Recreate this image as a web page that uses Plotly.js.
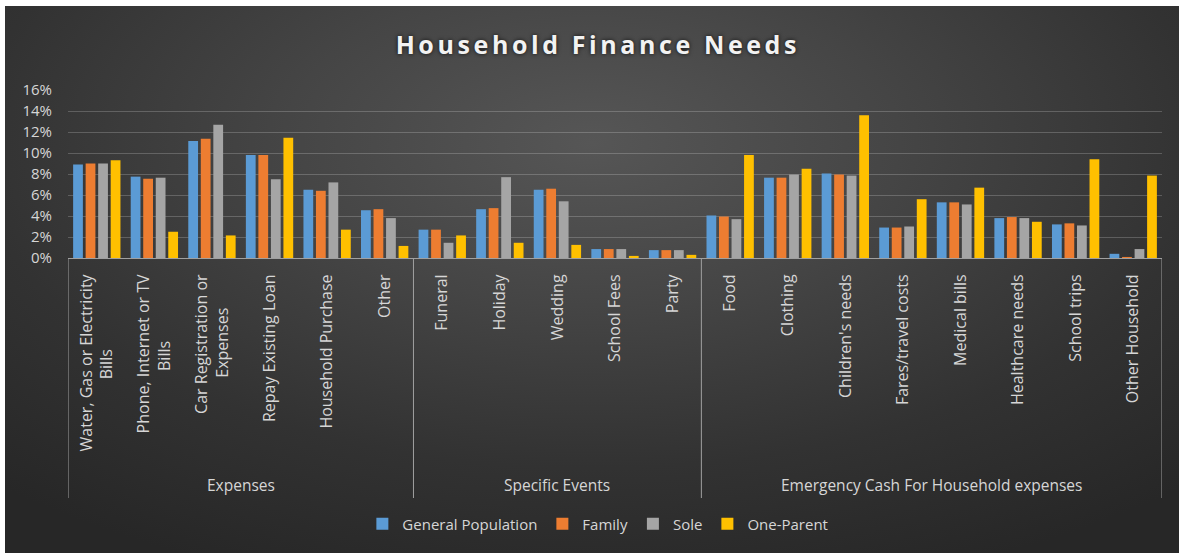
<!DOCTYPE html>
<html>
<head>
<meta charset="utf-8">
<script src="https://cdn.plot.ly/plotly-3.0.1.min.js"></script>
<style>
  html, body { margin: 0; padding: 0; background: #ffffff; width: 1179px; height: 553px; overflow: hidden; }
  #frame {
    position: absolute; left: 5px; top: 6px; width: 1174px; height: 547px;
    background: radial-gradient(ellipse 75% 85% at 50% 25%, #565656 0%, #454545 35%, #323232 70%, #272727 100%);
  }
  #chart { position: absolute; left: 0; top: 0; width: 1174px; height: 547px; }
  .gtitle { letter-spacing: 3.6px; }
</style>
</head>
<body>
<div id="frame"><div id="chart"></div></div>
<script>
// ---- data (percent) ----
const categories = [
  "Water, Gas or Electricity Bills", "Phone, Internet or TV Bills", "Car Registration or Expenses",
  "Repay Existing Loan", "Household Purchase", "Other",
  "Funeral", "Holiday", "Wedding", "School Fees", "Party",
  "Food", "Clothing", "Children's needs", "Fares/travel costs", "Medical bills",
  "Healthcare needs", "School trips", "Other Household"
];
const tickLabels = [
  "Water, Gas or Electricity<br>Bills", "Phone, Internet or TV<br>Bills", "Car Registration or<br>Expenses",
  "Repay Existing Loan", "Household Purchase", "Other",
  "Funeral", "Holiday", "Wedding", "School Fees", "Party",
  "Food", "Clothing", "Children's needs", "Fares/travel costs", "Medical bills",
  "Healthcare needs", "School trips", "Other Household"
];
const groups = ["Expenses", "Specific Events", "Emergency Cash For Household expenses"];
const groupSizes = [6, 5, 8];

const seriesNames = ["General Population", "Family", "Sole", "One-Parent"];
const generalPopulation = [8.9, 7.75, 11.15, 9.8, 6.5, 4.55, 2.7, 4.65, 6.5, 0.85, 0.75, 4.05, 7.65, 8.05, 2.9, 5.3, 3.8, 3.2, 0.4];
const family            = [9.0, 7.55, 11.35, 9.8, 6.4, 4.65, 2.7, 4.75, 6.6, 0.85, 0.75, 3.95, 7.65, 7.95, 2.9, 5.3, 3.9, 3.3, 0.1];
const sole              = [9.0, 7.65, 12.7, 7.5, 7.2, 3.8, 1.45, 7.7, 5.4, 0.85, 0.75, 3.7, 7.95, 7.85, 3.0, 5.1, 3.8, 3.1, 0.85];
const oneParent         = [9.3, 2.5, 2.15, 11.45, 2.7, 1.15, 2.15, 1.45, 1.25, 0.2, 0.3, 9.8, 8.5, 13.6, 5.6, 6.7, 3.45, 9.4, 7.85];
const seriesColors = ["#5B9BD5", "#ED7D31", "#A5A5A5", "#FFC000"];

// ---- layout constants ----
const W = 1174, H = 547;
const mL = 63, mR = 17, mT = 84, mB = 295;
const plotH = H - mT - mB;
const toPaperY = (py) => (H - mB - py) / plotH;   // py = pixel y inside div
const textColor = "#d6d6d6";
const fontFam = "'Open Sans', 'DejaVu Sans', sans-serif";
const tickSize = 16;

// centre the lines of multi-line rotated tick labels (Plotly end-aligns them)
const ctx = document.createElement("canvas").getContext("2d");
ctx.font = tickSize + "px 'Open Sans'";
const nbspW = ctx.measureText("\u00a0").width || tickSize * 0.26;
const centredTicks = tickLabels.map(t => {
  const lines = t.split("<br>");
  if (lines.length < 2) return t;
  const widths = lines.map(l => ctx.measureText(l).width);
  const maxW = Math.max(...widths);
  return lines.map((l, i) => l + "\u00a0".repeat(Math.max(0, Math.round((maxW - widths[i]) / 2 / nbspW)))).join("<br>");
});

const allSeries = [generalPopulation, family, sole, oneParent];
const traces = allSeries.map((vals, i) => ({
  type: "bar",
  name: seriesNames[i],
  x: categories,
  y: vals,
  marker: { color: seriesColors[i] },
  hoverinfo: "skip"
}));

// group dividers and labels computed from group sizes
const shapes = [];
const annotations = [];
let start = 0;
const dividerBottom = toPaperY(492);
shapes.push({ type: "line", xref: "x", yref: "paper", x0: -0.5, x1: -0.5, y0: 0, y1: dividerBottom,
  line: { color: "#a0a0a0", width: 1 } });
groups.forEach((g, gi) => {
  const end = start + groupSizes[gi];
  shapes.push({ type: "line", xref: "x", yref: "paper", x0: end - 0.5, x1: end - 0.5, y0: 0, y1: dividerBottom,
    line: { color: "#a0a0a0", width: 1 } });
  annotations.push({
    text: g, xref: "x", yref: "paper", x: (start + end - 1) / 2, y: toPaperY(479),
    xanchor: "center", yanchor: "middle", showarrow: false,
    font: { family: fontFam, size: 15.5, color: textColor }
  });
  start = end;
});

const layout = {
  width: W, height: H,
  paper_bgcolor: "rgba(0,0,0,0)",
  plot_bgcolor: "rgba(0,0,0,0)",
  margin: { l: mL, r: mR, t: mT, b: mB, pad: 0 },
  barmode: "group",
  bargap: 0.13,
  bargroupgap: 0.22,
  title: {
    text: "Household Finance Needs",
    x: 0.505, xanchor: "center", xref: "container",
    y: 1 - 39 / H, yanchor: "middle", yref: "container",
    font: { family: fontFam, size: 25, color: "#f2f2f2", weight: 700, shadow: "0px 0px 4px rgba(0,0,0,0.8)" }
  },
  xaxis: {
    type: "category",
    tickvals: categories,
    ticktext: centredTicks,
    tickangle: -90,
    tickfont: { family: fontFam, size: tickSize, color: textColor },
    showline: true, linecolor: "#a0a0a0", linewidth: 1,
    showgrid: false, zeroline: false,
    ticks: "", ticklabelstandoff: 9,
    range: [-0.5, categories.length - 0.5],
    fixedrange: true
  },
  yaxis: {
    range: [0, 16],
    dtick: 2,
    ticksuffix: "%",
    tickfont: { family: fontFam, size: 15, color: textColor },
    gridcolor: "rgba(255,255,255,0.2)", gridwidth: 1,
    zeroline: false, showline: false,
    ticks: "", ticklabelstandoff: 15,
    fixedrange: true
  },
  showlegend: true,
  legend: {
    orientation: "h",
    xref: "container", x: 0.505, xanchor: "center",
    yref: "container", y: 1 - 518 / H, yanchor: "middle",
    font: { family: fontFam, size: 15, color: textColor },
    bgcolor: "rgba(0,0,0,0)",
    itemwidth: 30,
    traceorder: "normal"
  },
  shapes: shapes,
  annotations: annotations
};

Plotly.newPlot("chart", traces, layout, { displayModeBar: false, staticPlot: true });
</script>
</body>
</html>
